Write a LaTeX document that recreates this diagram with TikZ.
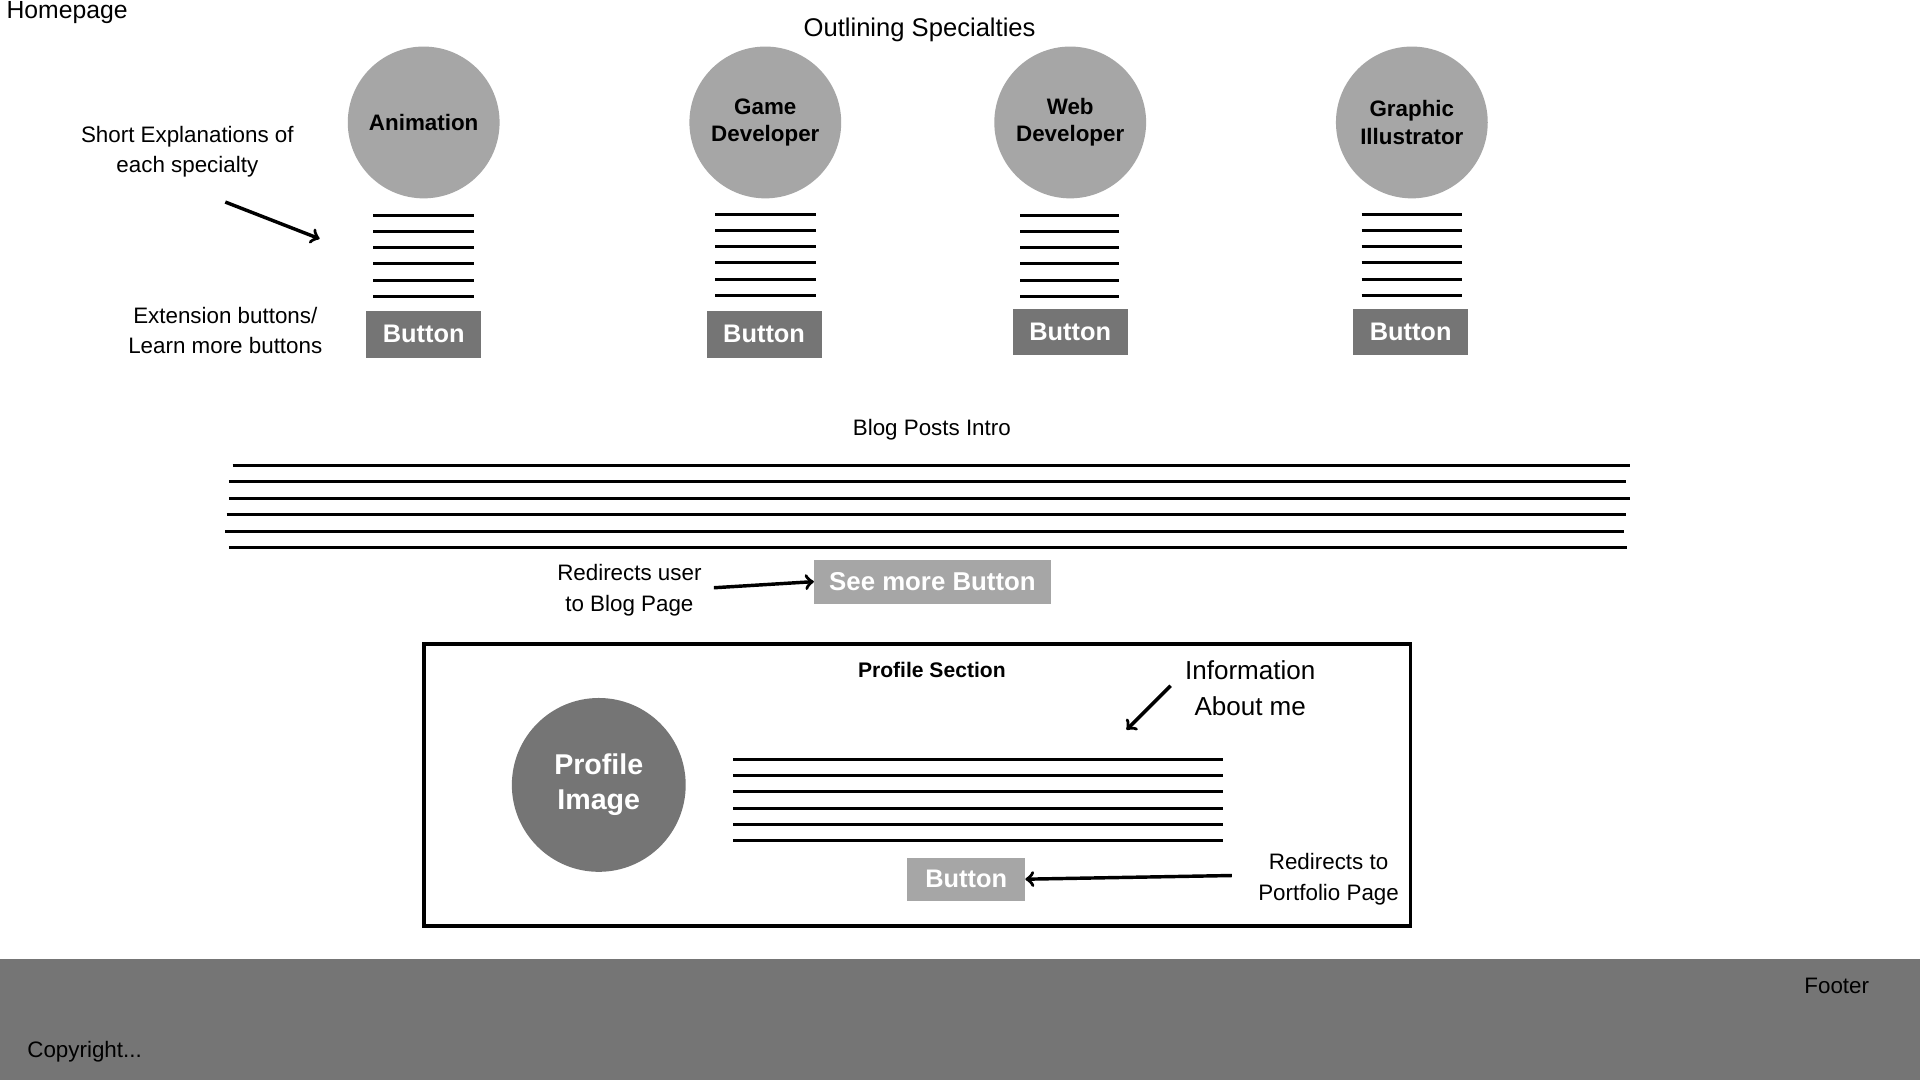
\documentclass[tikz,border=0pt]{standalone}
\usepackage{fontspec}
\setmainfont{Liberation Sans}
\definecolor{lightgrey}{HTML}{A6A6A6}
\definecolor{darkgrey}{HTML}{757575}

\begin{document}
\begin{tikzpicture}[x=0.02cm,y=-0.02cm,
    txt/.style={font=\fontsize{10.4}{14.2}\selectfont, align=center, inner sep=0pt},
    spec/.style={circle, fill=lightgrey, minimum size=2.48cm, inner sep=0pt, align=center, font=\bfseries\fontsize{10.4}{12.6}\selectfont},
    btn/.style={fill=darkgrey, text=white, minimum width=1.88cm, minimum height=0.76cm, inner sep=0pt, font=\bfseries\fontsize{11.8}{14}\selectfont},
    bar/.style={line width=1.4pt},
    pointer/.style={->, line width=1.6pt}]
    \fill[white] (0,0) rectangle (1568,882);
    \useasboundingbox (0,0) rectangle (1568,882);
    \node[txt, anchor=west, font=\fontsize{11.5}{14}\selectfont] (homepage) at (5,10) {Homepage};
    \node[txt, font=\fontsize{11.9}{14}\selectfont] (outlining) at (751,24) {Outlining Specialties};
    % specialties
    \node[spec] (animation) at (346,100) {Animation};
    \node[spec] (game) at (625,100) {Game\\Developer};
    \node[spec] (web) at (874,100) {Web\\Developer};
    \node[spec] (graphic) at (1153,100) {Graphic\\Illustrator};
    \draw[bar] (305,176) -- (387,176) (305,189) -- (387,189) (305,202) -- (387,202) (305,215) -- (387,215) (305,229) -- (387,229) (305,242) -- (387,242);
    \draw[bar] (584,175) -- (666,175) (584,188) -- (666,188) (584,201) -- (666,201) (584,214) -- (666,214) (584,228) -- (666,228) (584,241) -- (666,241);
    \draw[bar] (833,176) -- (914,176) (833,189) -- (914,189) (833,202) -- (914,202) (833,215) -- (914,215) (833,229) -- (914,229) (833,242) -- (914,242);
    \draw[bar] (1112,175) -- (1194,175) (1112,188) -- (1194,188) (1112,201) -- (1194,201) (1112,214) -- (1194,214) (1112,228) -- (1194,228) (1112,241) -- (1194,241);
    \node[btn] (btn-animation) at (346,273) {Button};
    \node[btn] (btn-game) at (624,273) {Button};
    \node[btn] (btn-web) at (874,271) {Button};
    \node[btn] (btn-graphic) at (1152,271) {Button};
    \node[txt] (explain) at (153,124) {Short Explanations of\\each specialty};
    \coordinate (explain-tail) at (184,165);
    \coordinate (explain-head) at (261,195);
    \draw[pointer] (explain-tail) -- (explain-head);
    \node[txt] (extension) at (184,270) {Extension buttons/\\Learn more buttons};
    % blog posts
    \node[txt] (blogintro) at (761,351) {Blog Posts Intro};
    \draw[line width=1.2pt] (190,380) -- (1331,380) (187,393) -- (1328,393) (187,407) -- (1331,407) (185,420) -- (1328,420) (184,434) -- (1326,434) (187,447) -- (1329,447);
    \node[txt] (redirect-blog) at (514,482) {Redirects user\\to Blog Page};
    \node[btn, fill=lightgrey, minimum width=3.86cm, minimum height=0.72cm, font=\bfseries\fontsize{12}{14}\selectfont] (seemore) at (761.5,475) {See more Button};
    \coordinate (redirect-tail) at (583,480);
    \draw[pointer] (redirect-tail) -- (seemore.west);
    % profile section
    \draw[line width=1.7pt] (346,526) rectangle (1152,756);
    \node[txt, font=\bfseries\fontsize{9.8}{12}\selectfont] (profile-title) at (761,547) {Profile Section};
    \node[txt, font=\fontsize{12.1}{17}\selectfont] (info) at (1021,562) {Information\\About me};
    \coordinate (info-tail) at (956,560);
    \coordinate (info-head) at (920,596);
    \draw[pointer] (info-tail) -- (info-head);
    \node[circle, fill=darkgrey, minimum size=2.84cm, inner sep=0pt, text=white, align=center, font=\bfseries\fontsize{13.3}{16.5}\selectfont] (profile-img) at (489,641) {Profile\\Image};
    \draw[bar] (599,620) -- (999,620) (599,633) -- (999,633) (599,646) -- (999,646) (599,660) -- (999,660) (599,673) -- (999,673) (599,686) -- (999,686);
    \node[btn, fill=lightgrey, minimum width=1.92cm, minimum height=0.7cm] (btn-portfolio) at (789,718) {Button};
    \node[txt] (redirect-portfolio) at (1085,718) {Redirects to\\Portfolio Page};
    \coordinate (portfolio-tail) at (1006,715);
    \draw[pointer] (portfolio-tail) -- (btn-portfolio.east);
    % footer
    \fill[darkgrey] (0,783) rectangle (1568,882);
    \node[txt] (footer) at (1500,805) {Footer};
    \node[txt, anchor=west] (copyright) at (22,859) {Copyright...};
\end{tikzpicture}
\end{document}
